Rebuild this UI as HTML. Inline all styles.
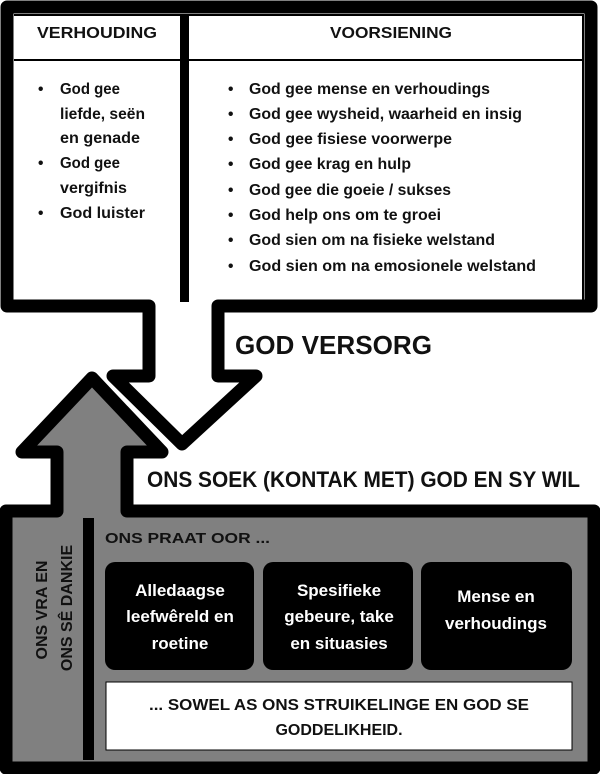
<!DOCTYPE html>
<html><head><meta charset="utf-8"><style>
html,body{margin:0;padding:0;background:#fff}
svg{display:block}
text{font-family:"Liberation Sans",sans-serif;font-weight:bold;fill:#111}
</style></head><body>
<svg width="600" height="774" viewBox="0 0 600 774" xmlns="http://www.w3.org/2000/svg">
<path d="M7,7 H591 V306 H218 V376 H256 L182,444 L113,376 H149 V306 H7 Z" fill="#fff" stroke="#000" stroke-width="13" stroke-linejoin="round"/>
<line x1="14" y1="15" x2="584" y2="15" stroke="#000" stroke-width="2"/>
<line x1="14" y1="60" x2="584" y2="60" stroke="#000" stroke-width="2"/>
<line x1="583" y1="14" x2="583" y2="300" stroke="#000" stroke-width="2"/>
<rect x="180" y="14" width="9" height="288" fill="#000"/>
<text x="37" y="38" font-size="16" textLength="120" lengthAdjust="spacingAndGlyphs">VERHOUDING</text>
<text x="330" y="38" font-size="16" textLength="122" lengthAdjust="spacingAndGlyphs">VOORSIENING</text>
<g font-size="15.5">
<text x="38" y="94">•</text><text x="60" y="94" textLength="60" lengthAdjust="spacingAndGlyphs">God gee</text>
<text x="60" y="119" textLength="85" lengthAdjust="spacingAndGlyphs">liefde, seën</text>
<text x="60" y="143" textLength="80" lengthAdjust="spacingAndGlyphs">en genade</text>
<text x="38" y="168">•</text><text x="60" y="168" textLength="60" lengthAdjust="spacingAndGlyphs">God gee</text>
<text x="60" y="193" textLength="67" lengthAdjust="spacingAndGlyphs">vergifnis</text>
<text x="38" y="218">•</text><text x="60" y="218" textLength="85" lengthAdjust="spacingAndGlyphs">God luister</text>
<text x="228" y="94">•</text><text x="249" y="94" textLength="241" lengthAdjust="spacingAndGlyphs">God gee mense en verhoudings</text>
<text x="228" y="119">•</text><text x="249" y="119" textLength="273" lengthAdjust="spacingAndGlyphs">God gee wysheid, waarheid en insig</text>
<text x="228" y="144">•</text><text x="249" y="144" textLength="203" lengthAdjust="spacingAndGlyphs">God gee fisiese voorwerpe</text>
<text x="228" y="169">•</text><text x="249" y="169" textLength="162" lengthAdjust="spacingAndGlyphs">God gee krag en hulp</text>
<text x="228" y="195">•</text><text x="249" y="195" textLength="202" lengthAdjust="spacingAndGlyphs">God gee die goeie / sukses</text>
<text x="228" y="220">•</text><text x="249" y="220" textLength="192" lengthAdjust="spacingAndGlyphs">God help ons om te groei</text>
<text x="228" y="245">•</text><text x="249" y="245" textLength="246" lengthAdjust="spacingAndGlyphs">God sien om na fisieke welstand</text>
<text x="228" y="271">•</text><text x="249" y="271" textLength="287" lengthAdjust="spacingAndGlyphs">God sien om na emosionele welstand</text>
</g>
<text x="235" y="354" font-size="26" textLength="197" lengthAdjust="spacingAndGlyphs">GOD VERSORG</text>
<text x="147" y="487" font-size="22" textLength="433" lengthAdjust="spacingAndGlyphs">ONS SOEK (KONTAK MET) GOD EN SY WIL</text>
<path d="M6,511 H57 V452 H22 L92,378 L162,452 H127 V511 H594 V768 H6 Z" fill="#808080" stroke="#000" stroke-width="13" stroke-linejoin="round"/>
<rect x="83" y="518" width="11" height="242" fill="#000"/>
<text transform="translate(47,610) rotate(-90)" font-size="16" text-anchor="middle">ONS VRA EN</text>
<text transform="translate(72,608) rotate(-90)" font-size="16" text-anchor="middle">ONS SÊ DANKIE</text>
<text x="105" y="543" font-size="15" textLength="165" lengthAdjust="spacingAndGlyphs">ONS PRAAT OOR ...</text>
<rect x="105" y="562" width="149" height="108" rx="10" fill="#000"/>
<rect x="263" y="562" width="150" height="108" rx="10" fill="#000"/>
<rect x="421" y="562" width="151" height="108" rx="10" fill="#000"/>
<g font-size="17" text-anchor="middle">
<text x="180" y="596" style="fill:#fff">Alledaagse</text>
<text x="180" y="622" style="fill:#fff">leefwêreld en</text>
<text x="180" y="649" style="fill:#fff">roetine</text>
<text x="339" y="596" style="fill:#fff">Spesifieke</text>
<text x="339" y="622" style="fill:#fff">gebeure, take</text>
<text x="339" y="649" style="fill:#fff">en situasies</text>
<text x="496" y="602" style="fill:#fff">Mense en</text>
<text x="496" y="629" style="fill:#fff">verhoudings</text>
</g>
<rect x="106" y="682" width="466" height="68" fill="#fff" stroke="#000" stroke-width="1"/>
<text x="149" y="710" font-size="16" textLength="380" lengthAdjust="spacingAndGlyphs">... SOWEL AS ONS STRUIKELINGE EN GOD SE</text>
<text x="339" y="735" font-size="16" text-anchor="middle">GODDELIKHEID.</text>
</svg>
</body></html>
